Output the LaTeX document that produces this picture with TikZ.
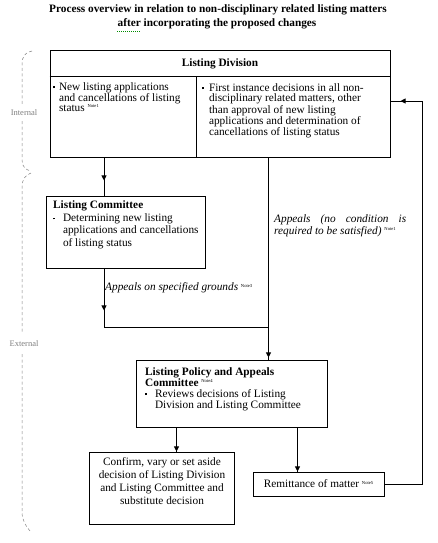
\documentclass[tikz,border=0pt]{standalone}
\usepackage{fontspec}
\setmainfont{Liberation Serif}
\usetikzlibrary{arrows.meta,decorations.markings}
\newcommand\mynote[1]{\raisebox{3.4pt}{\normalfont\fontsize{4.6}{5}\selectfont Note#1}}
\newcommand\sqb{\rule[2pt]{1.8pt}{1.8pt}}
\begin{document}
\begin{tikzpicture}[x=1pt,y=-1pt,
  box/.style={draw, line width=0.9pt, inner sep=0pt},
  txt/.style={inner sep=0pt, font=\fontsize{11.3}{10.3}\selectfont, align=left},
  conn/.style={line width=0.9pt},
  tipat/.style={postaction={decorate}, decoration={markings, mark=at position #1 with {\arrow{Triangle[width=5pt,length=5pt]}}}},
  bracestyle/.style={gray, line width=0.5pt, dash pattern=on 3pt off 2.5pt},
  side/.style={gray, font=\fontsize{8.5}{9}\selectfont, inner sep=0pt},
  ttl/.style={inner sep=0pt, font=\fontsize{11.3}{12}\selectfont\bfseries}]
\useasboundingbox (0,0) rectangle (437,543);

% title
\node[ttl] (t1) at (218,10) {Process overview in relation to non-disciplinary related listing matters};
\node[ttl] (t2) at (217,23.5) {after incorporating the proposed changes};
\draw[green!55!black, line width=0.6pt, dash pattern=on 1pt off 1pt] ([yshift=-2pt]t2.south west) -- ++(23,0);

% boxes
\node[box, minimum width=340pt, minimum height=107pt] (LD) at (220,103.5) {};
\node[box, minimum width=159pt, minimum height=72pt] (LC) at (125.5,232) {};
\node[box, minimum width=191pt, minimum height=67pt] (LPAC) at (231.5,393.5) {};
\node[box, minimum width=145pt, minimum height=72pt] (CF) at (161.5,488) {};
\node[box, minimum width=131pt, minimum height=24pt] (RM) at (318.5,484) {};

% inner lines of Listing Division
\draw[conn] ([yshift=-27pt]LD.north west) -- ([yshift=-27pt]LD.north east);
\draw[conn] (196,77) -- (196,157);

% texts
\node[txt, font=\fontsize{11.3}{12}\selectfont\bfseries] (ldh) at (220,63.5) {Listing Division};
\node[txt, anchor=north west] (ldl) at (53,82) {\begin{tabular}{@{}l@{\hspace{4pt}}l@{}}\sqb & New listing applications\\ & and cancellations of listing\\ & status \mynote{1}\end{tabular}};
\node[txt, anchor=north west] (ldr) at (202,83) {\begin{tabular}{@{}l@{\hspace{5pt}}l@{}}\sqb & First instance decisions in all non-\\ & disciplinary related matters, other\\ & than approval of new listing\\ & applications and determination of\\ & cancellations of listing status\end{tabular}};
\node[txt, font=\fontsize{11.3}{12.6}\selectfont, anchor=north west] (lct) at (53,199.7) {\begin{tabular}{@{}l@{\hspace{8pt}}l@{}}\multicolumn{2}{@{}l@{}}{\bfseries Listing Committee}\\ \sqb & Determining new listing\\ & applications and cancellations\\ & of listing status\end{tabular}};
\node[txt, font=\fontsize{11.3}{10.5}\selectfont, anchor=north west] (lpt) at (145,367) {\begin{tabular}{@{}l@{\hspace{8pt}}l@{}}\multicolumn{2}{@{}l@{}}{\bfseries Listing Policy and Appeals}\\ \multicolumn{2}{@{}l@{}}{\bfseries Committee \mynote{4}}\\ \sqb & Reviews decisions of Listing\\ & Division and Listing Committee\end{tabular}};
\node[txt, font=\fontsize{11.3}{13}\selectfont, align=center] (cft) at (162,481.5) {Confirm, vary or set aside\\decision of Listing Division\\and Listing Committee and\\substitute decision};
\node[txt] (rmt) at (RM.center) {Remittance of matter \mynote{5}};

\node[txt, font=\fontsize{11.3}{12}\selectfont\itshape, anchor=west] (ap1) at (105,288) {Appeals on specified grounds \mynote{3}};
\node[txt, font=\fontsize{11.3}{12}\selectfont\itshape, text width=132pt, align=justify, anchor=north west] (ap2) at (274,214) {Appeals (no condition is\linebreak required to be satisfied) \mynote{1}};

% side labels and braces
\node[side] (int) at (24,113) {Internal};
\node[side] (ext) at (24,344) {External};
\draw[bracestyle] (32,51) .. controls (25,52) and (22,57) .. (22,64) -- (22,106);
\draw[bracestyle] (22,121) -- (22,160) .. controls (22,167) and (26,170) .. (31,171);
\draw[bracestyle] (31,173) .. controls (25,175) and (22,180) .. (22,187) -- (22,334);
\draw[bracestyle] (22,354) -- (22,512) .. controls (22,520) and (26,527) .. (31,532);

% connectors
\coordinate (cA) at (104,0);
\coordinate (cB) at (268.5,0);
\coordinate (cC) at (176.5,0);
\coordinate (cD) at (297.5,0);
\coordinate (cE) at (422.5,0);
\coordinate (jn) at (268.5,327);
\draw[conn, tipat=23pt] (LD.south -| cA) -- (LC.north -| cA);
\draw[conn, tipat=42pt] (LC.south -| cA) |- (jn);
\draw[conn, tipat=200pt] (LD.south -| cB) -- (LPAC.north -| cB);
\draw[conn, tipat=24pt] (LPAC.south -| cC) -- (CF.north -| cC);
\draw[conn, tipat=44pt] (LPAC.south -| cD) -- (RM.north -| cD);
\draw[conn, tipat=443pt] (RM.east) -- (RM.east -| cE) -- ([yshift=2.5pt]LD.east -| cE) -- ([yshift=2.5pt]LD.east);
\end{tikzpicture}
\end{document}
